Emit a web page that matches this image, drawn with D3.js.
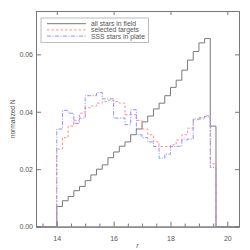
<!DOCTYPE html>
<html>
<head>
<meta charset="utf-8">
<script src="https://cdn.jsdelivr.net/npm/d3@7"></script>
<style>
body { margin: 0; background: #fff; }
svg text { font-family: "Liberation Sans", Arial, sans-serif; fill: #555; }
</style>
</head>
<body>
<div id="chart"></div>
<script>
// histogram bins (left edges, r mag) and normalized counts
var binLeft = [14.0,14.2,14.4,14.6,14.8,15.0,15.2,15.4,15.6,15.8,16.0,16.2,16.4,16.6,
               16.8,17.0,17.2,17.4,17.6,17.8,18.0,18.2,18.4,18.6,18.8,19.0,19.2,19.4];
var binWidth = 0.2;
var allStars = [0.0070,0.0090,0.0105,0.0125,0.0140,0.0160,0.0180,0.0200,0.0215,0.0240,
                0.0260,0.0280,0.0295,0.0320,0.0340,0.0365,0.0385,0.0410,0.0430,0.0456,
                0.0485,0.0510,0.0545,0.0580,0.0610,0.0640,0.0655,0.0350];
var selected = [0.0270,0.0310,0.0350,0.0370,0.0395,0.0414,0.0420,0.0430,0.0436,0.0440,
                0.0436,0.0430,0.0390,0.0390,0.0370,0.0340,0.0320,0.0295,0.0279,0.0279,
                0.0285,0.0302,0.0320,0.0343,0.0372,0.0380,0.0386,0.0219];
var sssStars = [0.0340,0.0405,0.0395,0.0360,0.0378,0.0456,0.0456,0.0467,0.0445,0.0445,
                0.0378,0.0378,0.0355,0.0407,0.0320,0.0310,0.0295,0.0279,0.0238,0.0252,
                0.0279,0.0280,0.0302,0.0305,0.0375,0.0375,0.0384,0.0206];
var seriesNames = ["all stars in field", "selected targets", "SSS stars in plate"];
var xTicks = [14, 16, 18, 20];
var xMinor = [13.5,14.5,15,15.5,16.5,17,17.5,18.5,19,19.5];
var yTicks = [0, 0.02, 0.04, 0.06];

var width = 250, height = 250;
var margin = {top: 11, right: 11, bottom: 23.4, left: 36};

var x = d3.scaleLinear().domain([13.27, 20.41]).range([margin.left, width - margin.right]);
var y = d3.scaleLinear().domain([0, 0.0751]).range([height - margin.bottom, margin.top]);

var svg = d3.select("#chart").append("svg")
  .attr("width", width)
  .attr("height", height);

svg.append("clipPath").attr("id", "plotclip")
  .append("rect")
  .attr("x", margin.left).attr("y", margin.top)
  .attr("width", x.range()[1] - x.range()[0])
  .attr("height", y.range()[0] - y.range()[1]);

function stepPoints(vals) {
  var pts = [[x.domain()[0], 0]];
  binLeft.forEach(function(b, i) { pts.push([b, vals[i]]); });
  pts.push([binLeft[binLeft.length - 1] + binWidth, 0]);
  pts.push([x.domain()[1], 0]);
  return pts;
}

var line = d3.line()
  .x(function(d) { return x(d[0]); })
  .y(function(d) { return y(d[1]); })
  .curve(d3.curveStepAfter);

var series = [
  {name: seriesNames[0], vals: allStars, color: "#7a7a7a", dash: null},
  {name: seriesNames[1], vals: selected, color: "#ff9090", dash: "2.5,2"},
  {name: seriesNames[2], vals: sssStars, color: "#9090ff", dash: "4,1.5,1,1.5"}
];

var plot = svg.append("g").attr("clip-path", "url(#plotclip)");
series.forEach(function(s) {
  plot.append("path")
    .attr("d", line(stepPoints(s.vals)))
    .attr("fill", "none")
    .attr("stroke", s.color)
    .attr("stroke-width", 1)
    .attr("stroke-dasharray", s.dash);
});

// axes, ticks pointing inward
var fmt = d3.format(".2f");
var gB = svg.append("g").attr("transform", "translate(0," + y.range()[0] + ")")
  .call(d3.axisBottom(x).tickValues(xTicks).tickSize(-5).tickPadding(9).tickFormat(d3.format("d")));
var gBm = svg.append("g").attr("transform", "translate(0," + y.range()[0] + ")")
  .call(d3.axisBottom(x).tickValues(xMinor).tickSize(-3).tickFormat(""));
var gT = svg.append("g").attr("transform", "translate(0," + y.range()[1] + ")")
  .call(d3.axisTop(x).tickValues(xTicks).tickSize(-4).tickFormat(""));
var gL = svg.append("g").attr("transform", "translate(" + x.range()[0] + ",0)")
  .call(d3.axisLeft(y).tickValues(yTicks).tickSize(-5).tickPadding(3).tickFormat(fmt));
var gR = svg.append("g").attr("transform", "translate(" + x.range()[1] + ",0)")
  .call(d3.axisRight(y).tickValues(yTicks).tickSize(-4).tickFormat(""));

[gB, gBm, gT, gL, gR].forEach(function(g) {
  g.selectAll("path.domain").attr("stroke", "#777").attr("stroke-width", 1);
  g.selectAll(".tick line").attr("stroke", "#777");
  g.selectAll("text").attr("font-size", 7).attr("fill", "#555")
    .style("font-family", "'Liberation Sans', Arial, sans-serif");
});

// axis titles
svg.append("text")
  .attr("transform", "translate(15," + (y.range()[0] + y.range()[1]) / 2 + ") rotate(-90)")
  .attr("text-anchor", "middle")
  .attr("font-size", 6.6)
  .text("normalized N");
svg.append("text")
  .attr("x", (x.range()[0] + x.range()[1]) / 2)
  .attr("y", 248)
  .attr("text-anchor", "middle")
  .attr("font-size", 7)
  .attr("font-style", "italic")
  .text("r");

// legend
var leg = svg.append("g");
leg.append("rect")
  .attr("x", 41).attr("y", 18).attr("width", 107.5).attr("height", 24.5)
  .attr("fill", "#fff").attr("stroke", "#bbb").attr("stroke-width", 1);
series.forEach(function(s, i) {
  var ly = 23.7 + i * 6.2;
  leg.append("line")
    .attr("x1", 47).attr("x2", 86).attr("y1", ly).attr("y2", ly)
    .attr("stroke", s.color).attr("stroke-width", 1)
    .attr("stroke-dasharray", s.dash);
  leg.append("text")
    .attr("x", 91).attr("y", ly + 2.4)
    .attr("font-size", 6.8)
    .text(s.name);
});
</script>
</body>
</html>
